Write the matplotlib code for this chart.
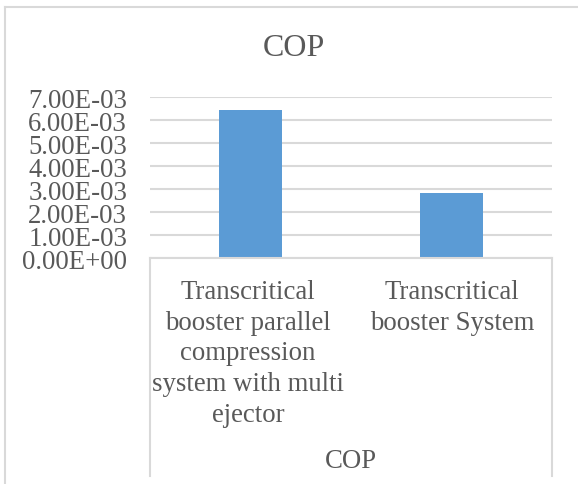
import matplotlib.pyplot as plt
from matplotlib.lines import Line2D
from matplotlib.ticker import FuncFormatter

systems = ["Transcritical\nbooster parallel\ncompression\nsystem with multi\nejector",
           "Transcritical\nbooster System"]
cop = [6.45e-3, 2.84e-3]
yticks = [0, 1e-3, 2e-3, 3e-3, 4e-3, 5e-3, 6e-3, 7e-3]

plt.rcParams['font.family'] = ['Liberation Serif', 'DejaVu Serif']
grey = '#595959'
grid = '#D9D9D9'

W, H = 578, 485
fig = plt.figure(figsize=(W / 100, H / 100), dpi=100)
ax = fig.add_axes([150 / W, 1 - 259.3 / H, 402 / W, (259.3 - 98.3) / H])

x = [0, 1]
ax.bar(x, cop, width=0.315, color='#5B9BD5', zorder=3)
ax.set_xlim(-0.5, 1.5)
ax.set_ylim(0, 7e-3)
ax.set_yticks(yticks)
ax.yaxis.set_major_formatter(FuncFormatter(lambda v, p: '%.2E' % v))
ax.tick_params(axis='y', length=0, pad=16.5, labelsize=19.3, labelcolor=grey)
ax.grid(axis='y', color=grid, lw=1.5, zorder=0)
ax.set_xticks([])
for s in ax.spines.values():
    s.set_visible(False)

# category labels under the axis, top of first line at a fixed height
lab_x = [248, 452]
for xp, name in zip(lab_x, systems):
    fig.text(xp / W, 1 - 280 / H, name, ha='center', va='top', fontsize=19.3,
             color=grey, linespacing=1.30)
fig.text(351 / W, 1 - 462 / H, 'COP', ha='center', va='center',
         fontsize=19.3, color=grey)

# title
fig.text(293.5 / W, 1 - 48 / H, 'COP', ha='center', va='center',
         fontsize=23, color=grey)

# frame lines of the category box and the chart border
def px_line(x0, y0, x1, y1):
    fig.add_artist(Line2D([x0 / W, x1 / W], [1 - y0 / H, 1 - y1 / H],
                          color=grid, lw=1.5, transform=fig.transFigure))

px_line(150, 259.3, 552, 259.3)
px_line(150, 259.3, 150, 477)
px_line(552, 259.3, 552, 477)
px_line(5, 8, 5, 484)
px_line(5, 8, 578, 8)

fig.savefig('out.png', dpi=100)
